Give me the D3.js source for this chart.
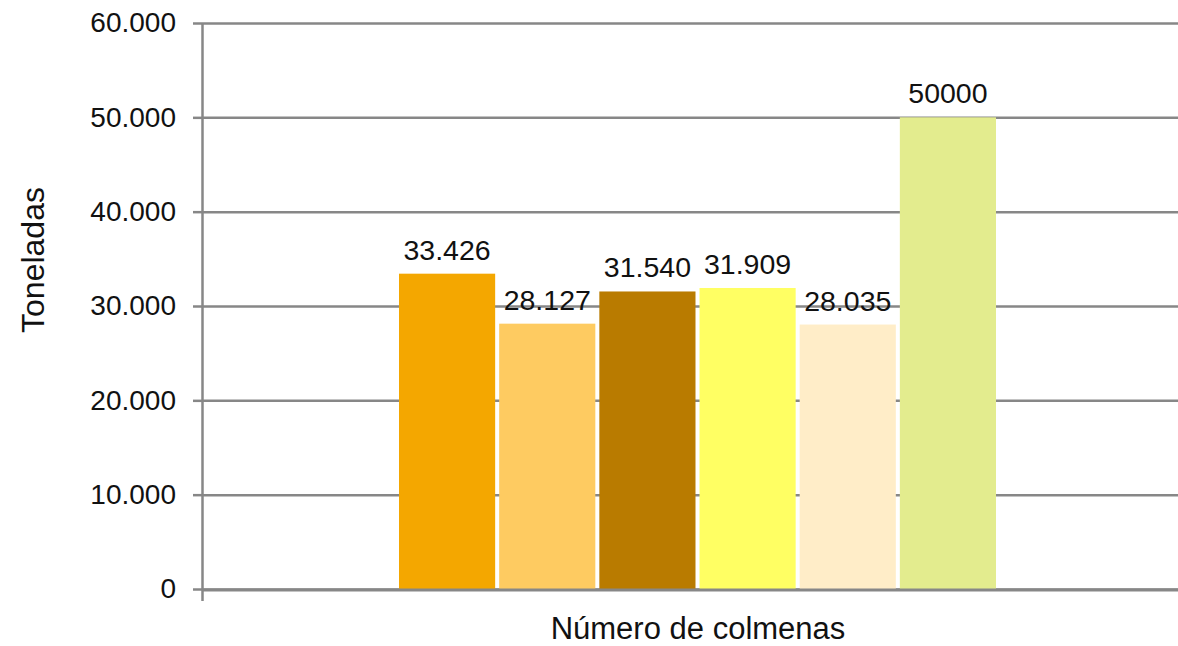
<!DOCTYPE html>
<html>
<head>
<meta charset="utf-8">
<script src="https://cdn.jsdelivr.net/npm/d3@7"></script>
<style>
  body { margin: 0; background: #fff; }
  svg { display: block; font-family: "Liberation Sans", Arial, sans-serif; }
</style>
</head>
<body>
<svg id="chart" width="1178" height="646"></svg>
<script>
// data
const seriesNames = ['Serie 1', 'Serie 2', 'Serie 3', 'Serie 4', 'Serie 5', 'Serie 6'];
const values = [33426, 28127, 31540, 31909, 28035, 50000];
const valueLabels = ['33.426', '28.127', '31.540', '31.909', '28.035', '50000'];
const barColors = ['#F4A700', '#FECB61', '#B97B00', '#FFFF63', '#FFEDC8', '#E3EC8E'];
const yTicks = [0, 10000, 20000, 30000, 40000, 50000, 60000];
const xTitle = 'Número de colmenas';
const yTitle = 'Toneladas';

const svg = d3.select('#chart');
const plotLeft = 202, plotRight = 1178, plotTop = 23, plotBottom = 589;
const gridColor = '#878787';

const es = d3.formatLocale({ decimal: ',', thousands: '.', grouping: [3], currency: ['', ''] });

const y = d3.scaleLinear().domain([0, 60000]).range([plotBottom, plotTop]);
const x = d3.scaleBand()
  .domain(seriesNames)
  .range([399, 996])
  .paddingInner(0.04)
  .paddingOuter(0);

// grid lines
const grid = svg.append('g')
  .attr('transform', `translate(${plotLeft},0)`)
  .call(d3.axisRight(y).tickValues(yTicks).tickSize(plotRight - plotLeft).tickFormat(''));
grid.select('.domain').remove();
grid.selectAll('line').attr('stroke', gridColor).attr('stroke-width', 2.5);

// bars
svg.append('g')
  .selectAll('rect')
  .data(values)
  .join('rect')
  .attr('x', (d, i) => x(seriesNames[i]))
  .attr('y', d => y(d))
  .attr('width', x.bandwidth())
  .attr('height', d => y(0) - y(d))
  .attr('fill', (d, i) => barColors[i]);

// value labels
svg.append('g')
  .selectAll('text')
  .data(values)
  .join('text')
  .attr('x', (d, i) => x(seriesNames[i]) + x.bandwidth() / 2)
  .attr('y', d => y(d) - 14)
  .attr('text-anchor', 'middle')
  .attr('font-size', 28.5)
  .attr('fill', '#111')
  .text((d, i) => valueLabels[i]);

// y axis
const yAxis = svg.append('g')
  .attr('transform', `translate(${plotLeft},0)`)
  .call(d3.axisLeft(y)
    .tickValues(yTicks)
    .tickSizeInner(9)
    .tickSizeOuter(0)
    .tickPadding(17)
    .tickFormat(es.format(',d')));
yAxis.select('.domain').attr('stroke', gridColor).attr('stroke-width', 2.5)
  .attr('d', `M0.5,${plotTop}V${plotBottom + 12}`);
yAxis.selectAll('line').attr('stroke', gridColor).attr('stroke-width', 2.5);
yAxis.selectAll('text')
  .attr('font-size', 28)
  .attr('font-family', '"Liberation Sans", Arial, sans-serif')
  .attr('fill', '#111');

// x axis line
svg.append('line')
  .attr('x1', plotLeft).attr('x2', plotRight)
  .attr('y1', y(0) + 1).attr('y2', y(0) + 1)
  .attr('stroke', gridColor)
  .attr('stroke-width', 3);

// titles
svg.append('text')
  .attr('x', 698)
  .attr('y', 639)
  .attr('text-anchor', 'middle')
  .attr('font-size', 31)
  .attr('fill', '#111')
  .text(xTitle);

svg.append('text')
  .attr('transform', 'translate(44,260) rotate(-90)')
  .attr('text-anchor', 'middle')
  .attr('font-size', 32)
  .attr('fill', '#111')
  .text(yTitle);
</script>
</body>
</html>
